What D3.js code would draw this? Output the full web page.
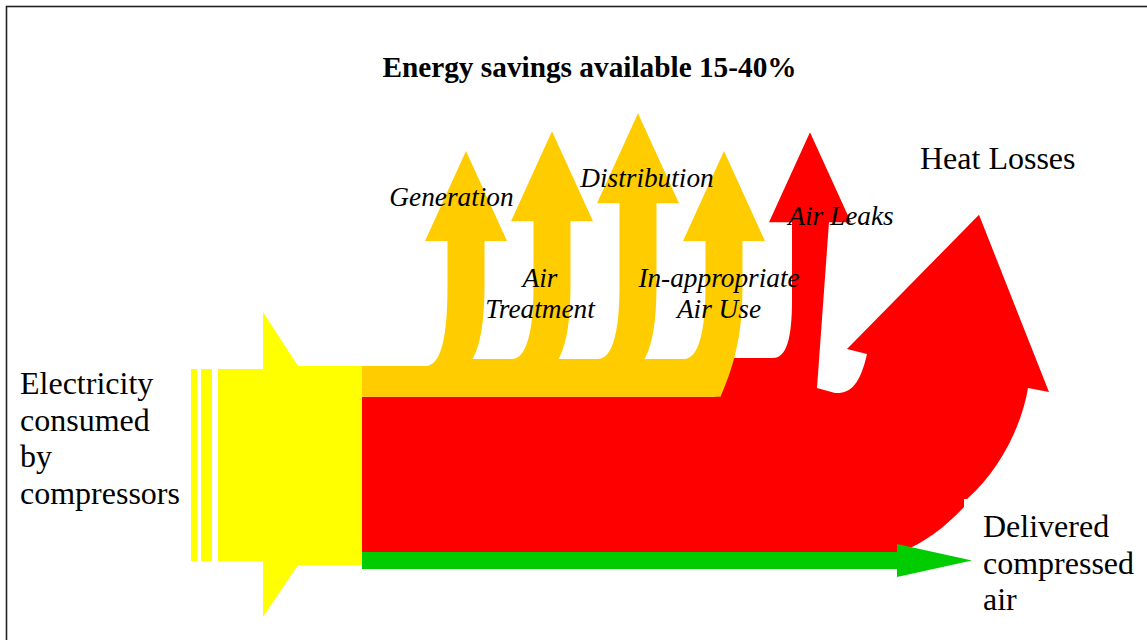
<!DOCTYPE html>
<html>
<head>
<meta charset="utf-8">
<script src="https://cdn.jsdelivr.net/npm/d3@7"></script>
<style>
  html, body { margin: 0; padding: 0; background: #fff; }
  svg { display: block; }
  text { font-family: "Liberation Serif", "Times New Roman", serif; fill: #000; }
</style>
</head>
<body>
<script>
// ---------------- DATA ----------------
const title = "Energy savings available 15-40%";
// share of input energy (%), stacked top to bottom at the output of the compressor block
const flowNames  = ["Energy savings", "Heat Losses", "Delivered compressed air"];
const flowValues = [15.5, 78, 8.5];
const inputValue = 100;                       // electricity consumed by compressors
// savings branches peeling off upward (orange ones + red Air Leaks)
const branchNames  = ["Generation", "Air Treatment", "Distribution", "In-appropriate Air Use", "Air Leaks"];
const branchLabels = [["Generation"], ["Air", "Treatment"], ["Distribution"], ["In-appropriate", "Air Use"], ["Air Leaks"]];
const branchReach  = [108, 118, 127, 108, 117.5];  // arrow length in the same units
const branchFlow   = [0, 0, 0, 0, 1];             // index into flowNames that feeds the branch
const heatLossReach = 76;                          // tip of heat losses arrow above band
const inputLabel     = ["Electricity", "consumed", "by", "compressors"];
const heatLabel      = ["Heat Losses"];
const deliveredLabel = ["Delivered", "compressed", "air"];

// ---------------- LAYOUT ----------------
const W = 1147, H = 640;
const colors = { input: "#FFFF00", savings: "#FFCC00", loss: "#FF0000", delivered: "#00CC00" };
const flowColors = [colors.savings, colors.loss, colors.delivered];

const svg = d3.select("body").append("svg").attr("width", W).attr("height", H);

// value -> thickness
const thick = d3.scaleLinear().domain([0, inputValue]).range([0, 199]);
const bandTop = 366;          // top of the stacked band
const xBlockEnd = 362;        // right edge of the input block
// stack
let acc = bandTop;
const bands = flowValues.map((v, i) => { const b = { name: flowNames[i], y0: acc, y1: acc + thick(v) }; acc += thick(v); return b; });
// vertical position of arrow tips
const yReach = d3.scaleLinear().domain([0, 100]).range([bandTop, bandTop - 199]);
// branch x positions
const xBranch = d3.scaleLinear().domain([0, branchNames.length - 1]).range([466, 810]);

const shaftHalf = 18.5, headHalf = 41, headLen = 90, curveTop = 285;

// border frame
svg.append("rect").attr("x", 6.5).attr("y", 6.5).attr("width", W + 20).attr("height", H + 20)
  .attr("fill", "none").attr("stroke", "#222").attr("stroke-width", 1.6);

// ---------------- INPUT BLOCK ----------------
const inTop = bandTop, inBot = bandTop + thick(inputValue);
const p = d3.path();
p.moveTo(218, inTop + 3); p.lineTo(263, inTop + 3); p.lineTo(263, inTop - 54);
p.lineTo(298, inTop); p.lineTo(xBlockEnd, inTop); p.lineTo(xBlockEnd, inBot);
p.lineTo(298, inBot); p.lineTo(263, inBot + 52); p.lineTo(263, inBot - 4); p.lineTo(218, inBot - 4); p.closePath();
svg.append("path").attr("d", p.toString()).attr("fill", colors.input);
[[191, 197], [201, 212]].forEach(([a, b]) => {
  svg.append("rect").attr("x", a).attr("y", inTop + 3).attr("width", b - a).attr("height", inBot - inTop - 7).attr("fill", colors.input);
});

// ---------------- RED (heat losses + air leaks) ----------------
const bSav = bands[0], bLoss = bands[1], bDel = bands[2];
function arrowHead(path, cx, tipY, xl, xr) {
  const hb = tipY + headLen;
  path.lineTo(xl, hb); path.lineTo(cx - headHalf, hb); path.lineTo(cx, tipY);
  path.lineTo(cx + headHalf, hb); path.lineTo(xr, hb);
}
{
  const r = d3.path();
  const gapY = bandTop - 8;
  const i = 4, cx = xBranch(i), xl = cx - shaftHalf + 0.5, xr = cx + shaftHalf + 0.5;
  r.moveTo(xBlockEnd, bLoss.y0);
  r.lineTo(715, bLoss.y0);
  r.lineTo(733, gapY);
  r.lineTo(xl - 19, gapY);
  r.bezierCurveTo(xl - 6, gapY, xl, gapY - 18, xl, 300);
  arrowHead(r, cx, yReach(branchReach[i]), xl, xr);
  r.lineTo(817, 388);
  r.lineTo(835, 393);
  r.bezierCurveTo(850, 394, 860, 385, 867, 354);
  // heat loss arrow head
  const tipY = yReach(heatLossReach);
  r.lineTo(847, 349); r.lineTo(979, tipY); r.lineTo(1049, 392); r.lineTo(1028, 388);
  r.bezierCurveTo(1022, 425, 1000, 470, 967, 499);
  r.lineTo(964, 499); r.lineTo(964, 507);
  r.bezierCurveTo(945, 527, 925, 543, 900, bDel.y0);
  r.lineTo(xBlockEnd, bDel.y0);
  r.closePath();
  svg.append("path").attr("d", r.toString()).attr("fill", flowColors[branchFlow[i]]);
}

// ---------------- ORANGE (savings) ----------------
{
  const o = d3.path();
  o.moveTo(xBlockEnd, bSav.y0);
  const orange = d3.range(4);
  orange.forEach((i, k) => {
    const cx = xBranch(i), xl = cx - shaftHalf, xr = cx + shaftHalf;
    const gapL = k === 0 ? bSav.y0 : bSav.y0 - 7;
    o.lineTo(xl - 22, gapL);
    o.bezierCurveTo(xl - 6, gapL, xl, gapL - 30, xl, curveTop);
    arrowHead(o, cx, yReach(branchReach[i]), xl, xr);
    o.lineTo(xr, curveTop);
    if (k < orange.length - 1) {
      const gapR = bSav.y0 - 7;
      o.bezierCurveTo(xr, curveTop + 40, xr - 5, gapR - 12, xr - 12, gapR);
    } else {
      o.bezierCurveTo(xr, 330, xr - 6, 360, xr - 22, bSav.y1);
    }
  });
  o.lineTo(xBlockEnd, bSav.y1);
  o.closePath();
  svg.append("path").attr("d", o.toString()).attr("fill", flowColors[branchFlow[0]]);
}

// ---------------- GREEN (delivered) ----------------
{
  const g = d3.path();
  const mid = (bDel.y0 + bDel.y1) / 2;
  g.moveTo(xBlockEnd, bDel.y0); g.lineTo(897, bDel.y0); g.lineTo(897, mid - 16.5);
  g.lineTo(972, mid); g.lineTo(897, mid + 16.5); g.lineTo(897, bDel.y1);
  g.lineTo(xBlockEnd, bDel.y1); g.closePath();
  svg.append("path").attr("d", g.toString()).attr("fill", colors.delivered);
}

// ---------------- TEXT ----------------
svg.append("text").attr("x", 589.5).attr("y", 77).attr("text-anchor", "middle")
  .attr("font-weight", "bold").attr("font-size", 29.3).text(title);

const labelPos = [[451.5, 206], [540, 287], [647, 187], [719, 287], [841, 225]];
branchLabels.forEach((lines, i) => {
  const t = svg.append("text").attr("text-anchor", "middle").attr("font-style", "italic").attr("font-size", 27.3);
  lines.forEach((s, j) => t.append("tspan").attr("x", labelPos[i][0]).attr("y", labelPos[i][1] + j * 31).text(s));
});

function block(lines, x, y, lh) {
  const t = svg.append("text").attr("font-size", 32);
  lines.forEach((s, j) => t.append("tspan").attr("x", x).attr("y", y + j * lh).text(s));
}
block(inputLabel, 20, 394, 36.5);
block(heatLabel, 920, 169, 36);
block(deliveredLabel, 983, 537, 36.5);
</script>
</body>
</html>
